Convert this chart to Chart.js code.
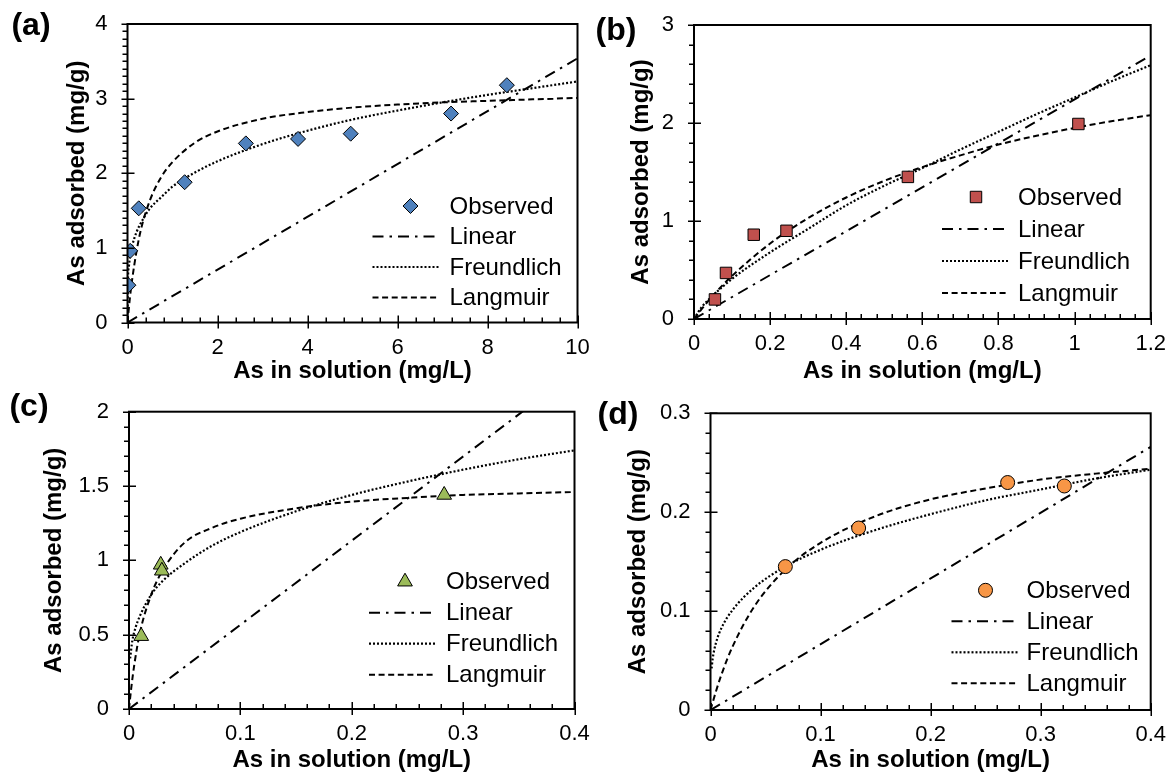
<!DOCTYPE html>
<html>
<head>
<meta charset="utf-8">
<script src="https://cdn.jsdelivr.net/npm/chart.js@4.4.0/dist/chart.umd.min.js"></script>
<style>
  body { margin: 0; background: #fff; }
  canvas { position: absolute; }
</style>
</head>
<body>
<canvas id="panel-a" width="590" height="388" style="left:0;top:0"></canvas>
<canvas id="panel-b" width="582" height="388" style="left:590px;top:0"></canvas>
<canvas id="panel-c" width="590" height="389" style="left:0;top:388px"></canvas>
<canvas id="panel-d" width="582" height="389" style="left:590px;top:388px"></canvas>
<script>
// Isotherm data: C = As in solution (mg/L), Q = As adsorbed (mg/g)

// (a)
const aObsC = [0.02, 0.06, 0.25, 1.27, 2.63, 3.79, 4.96, 7.19, 8.43];
const aObsQ = [0.50, 0.96, 1.53, 1.88, 2.40, 2.46, 2.53, 2.80, 3.18];
const aLinC = [0, 10];
const aLinQ = [0, 3.54];
const aFreC = [0, 0.01, 0.03, 0.06, 0.1, 0.2, 0.35, 0.5, 0.75, 1, 1.5, 2, 3, 4, 5, 6, 7, 8, 9, 10];
const aFreQ = [0, 0.57, 0.75, 0.90, 1.02, 1.21, 1.39, 1.53, 1.68, 1.82, 2.01, 2.16, 2.39, 2.57, 2.72, 2.84, 2.95, 3.05, 3.14, 3.23];
const aLanC = [0, 0.05, 0.1, 0.2, 0.3, 0.5, 0.75, 1, 1.5, 2, 3, 4, 5, 6, 7, 8, 9, 10];
const aLanQ = [0, 0.31, 0.56, 0.95, 1.25, 1.64, 1.95, 2.15, 2.41, 2.56, 2.73, 2.82, 2.88, 2.92, 2.95, 2.97, 2.99, 3.01];

// (b)
const bObsC = [0.055, 0.084, 0.157, 0.243, 0.562, 1.01];
const bObsQ = [0.20, 0.47, 0.86, 0.90, 1.45, 1.99];
const bLinC = [0, 1.2];
const bLinQ = [0, 2.69];
const bFreC = [0, 0.02, 0.05, 0.1, 0.2, 0.3, 0.4, 0.5, 0.6, 0.7, 0.8, 0.9, 1, 1.1, 1.2];
const bFreQ = [0, 0.12, 0.24, 0.41, 0.68, 0.92, 1.16, 1.36, 1.54, 1.73, 1.91, 2.09, 2.26, 2.43, 2.59];
const bLanC = [0, 0.02, 0.05, 0.1, 0.2, 0.3, 0.4, 0.5, 0.6, 0.7, 0.8, 0.9, 1, 1.1, 1.2];
const bLanQ = [0, 0.10, 0.24, 0.44, 0.77, 1.03, 1.24, 1.41, 1.55, 1.67, 1.78, 1.87, 1.95, 2.02, 2.08];

// (c)
const cObsC = [0.011, 0.0285, 0.0295, 0.283];
const cObsQ = [0.49, 0.97, 0.93, 1.44];
const cLinC = [0, 0.4];
const cLinQ = [0, 2.265];
const cFreC = [0.001, 0.003, 0.006, 0.01, 0.02, 0.03, 0.05, 0.075, 0.1, 0.15, 0.2, 0.25, 0.3, 0.35, 0.4];
const cFreQ = [0.34, 0.46, 0.55, 0.63, 0.77, 0.86, 0.98, 1.10, 1.19, 1.33, 1.44, 1.53, 1.61, 1.68, 1.74];
const cLanC = [0, 0.002, 0.005, 0.01, 0.02, 0.03, 0.05, 0.075, 0.1, 0.15, 0.2, 0.25, 0.3, 0.35, 0.4];
const cLanQ = [0, 0.14, 0.31, 0.52, 0.77, 0.93, 1.12, 1.22, 1.28, 1.35, 1.395, 1.42, 1.44, 1.45, 1.46];

// (d)
const dObsC = [0.068, 0.1346, 0.270, 0.3215];
const dObsQ = [0.145, 0.184, 0.230, 0.2265];
const dLinC = [0, 0.4];
const dLinQ = [0, 0.266];
const dFreC = [0.001, 0.002, 0.005, 0.01, 0.02, 0.04, 0.068, 0.1, 0.15, 0.2, 0.25, 0.3, 0.35, 0.4];
const dFreQ = [0.042, 0.052, 0.068, 0.083, 0.101, 0.124, 0.145, 0.162, 0.182, 0.198, 0.212, 0.223, 0.234, 0.243];
const dLanC = [0, 0.005, 0.01, 0.02, 0.04, 0.068, 0.1, 0.15, 0.2, 0.25, 0.3, 0.35, 0.4];
const dLanQ = [0, 0.019, 0.036, 0.064, 0.105, 0.142, 0.169, 0.196, 0.213, 0.224, 0.233, 0.239, 0.244];

const seriesNames = ['Observed', 'Linear', 'Freundlich', 'Langmuir'];
const xTitle = 'As in solution (mg/L)';
const yTitle = 'As adsorbed (mg/g)';

const FONT = '"Liberation Sans", Arial, Helvetica, sans-serif';
const DASH_LINEAR = [11, 6, 2.5, 6];
const DASH_FREUNDLICH = [2, 2];
const DASH_LANGMUIR = [6, 3.6];

const pts = (cs, qs) => cs.map((c, i) => ({ x: c, y: qs[i] }));
const fmt = v => String(Number(v.toFixed(3)));

function steps(min, max, step) {
  const n = Math.round((max - min) / step);
  const out = [];
  for (let i = 0; i <= n; i++) out.push(min + i * step);
  return out;
}
const isMajor = (v, major) => Math.abs(v / major - Math.round(v / major)) < 1e-6;

function drawMarker(ctx, style, r, x, y) {
  ctx.beginPath();
  if (style === 'rectRot') {
    ctx.moveTo(x, y - r); ctx.lineTo(x + r, y); ctx.lineTo(x, y + r); ctx.lineTo(x - r, y);
    ctx.closePath();
  } else if (style === 'rect') {
    const s = r * Math.SQRT1_2;
    ctx.rect(x - s, y - s, 2 * s, 2 * s);
  } else if (style === 'triangle') {
    ctx.moveTo(x, y - r);
    ctx.lineTo(x + r * Math.sin(Math.PI / 3), y + r / 2);
    ctx.lineTo(x - r * Math.sin(Math.PI / 3), y + r / 2);
    ctx.closePath();
  } else {
    ctx.arc(x, y, r, 0, Math.PI * 2);
  }
  ctx.fill();
  ctx.stroke();
}

// frame, tick marks, legend and panel letter
const decor = {
  id: 'decor',
  afterDraw(chart, args, o) {
    const ctx = chart.ctx;
    const { left, right, top, bottom } = chart.chartArea;
    const xs = chart.scales.x, ys = chart.scales.y;
    ctx.save();
    ctx.strokeStyle = '#000';
    ctx.lineWidth = 1.5;
    ctx.beginPath();
    steps(xs.min, xs.max, o.minorX).forEach(v => {
      const px = Math.round(xs.getPixelForValue(v)) + 0.25;
      if (isMajor(v - xs.min, o.majorX)) {
        ctx.moveTo(px, bottom + 6); ctx.lineTo(px, bottom - 7);
      } else {
        ctx.moveTo(px, bottom); ctx.lineTo(px, bottom - 5);
      }
    });
    steps(ys.min, ys.max, o.minorY).forEach(v => {
      const py = Math.round(ys.getPixelForValue(v)) + 0.25;
      if (isMajor(v - ys.min, o.majorY)) {
        ctx.moveTo(left - 6, py); ctx.lineTo(left + 7, py);
      } else {
        ctx.moveTo(left - 5, py); ctx.lineTo(left, py);
      }
    });
    ctx.stroke();
    ctx.lineWidth = 2;
    ctx.strokeRect(left, top, right - left, bottom - top);

    // legend
    const lg = o.legend;
    ctx.font = '24px ' + FONT;
    ctx.textAlign = 'left';
    ctx.textBaseline = 'middle';
    chart.data.datasets.forEach((ds, i) => {
      const y = top + lg.y0 + i * lg.gap;
      if (i === 0) {
        ctx.fillStyle = ds.backgroundColor;
        ctx.lineWidth = 1;
        drawMarker(ctx, ds.pointStyle, ds.pointRadius, left + lg.marker, y);
      } else {
        ctx.lineWidth = ds.borderWidth;
        ctx.setLineDash(ds.borderDash);
        ctx.beginPath();
        ctx.moveTo(left + lg.line0, y);
        ctx.lineTo(left + lg.line1, y);
        ctx.stroke();
        ctx.setLineDash([]);
      }
      ctx.fillStyle = '#000';
      ctx.fillText(ds.label, left + lg.text, y + 1);
    });

    ctx.font = 'bold 32px ' + FONT;
    ctx.textAlign = 'center';
    ctx.fillText(o.tag.text, o.tag.x, o.tag.y);
    ctx.restore();
  }
};

function panel(id, p) {
  const line = (label, cs, qs, dash, width, smooth) => ({
    label, data: pts(cs, qs), showLine: true, pointRadius: 0,
    borderColor: '#000', borderWidth: width, borderDash: dash,
    cubicInterpolationMode: smooth ? 'monotone' : 'default', fill: false
  });
  new Chart(document.getElementById(id), {
    type: 'scatter',
    data: {
      datasets: [
        {
          label: seriesNames[0], data: pts(p.obs[0], p.obs[1]),
          pointStyle: p.marker, pointRadius: p.markerSize, backgroundColor: p.color,
          borderColor: '#000', borderWidth: 1
        },
        line(seriesNames[1], p.lin[0], p.lin[1], DASH_LINEAR, 2, false),
        line(seriesNames[2], p.fre[0], p.fre[1], DASH_FREUNDLICH, 2.2, true),
        line(seriesNames[3], p.lan[0], p.lan[1], DASH_LANGMUIR, 2, true)
      ]
    },
    options: {
      responsive: false,
      animation: false,
      events: [],
      devicePixelRatio: 1,
      layout: { padding: { top: p.pad[0], right: p.pad[1], bottom: 0, left: 0 } },
      plugins: {
        legend: { display: false },
        tooltip: { enabled: false },
        decor: {
          majorX: p.x[2], minorX: p.x[3], majorY: p.y[2], minorY: p.y[3],
          legend: p.legend, tag: p.tag
        }
      },
      scales: {
        x: {
          type: 'linear', min: p.x[0], max: p.x[1],
          afterFit(s) { s.height = p.axisBox[1]; s.paddingLeft = 0; s.paddingRight = 0; },
          ticks: { stepSize: p.x[2], color: '#000', font: { family: FONT, size: 22 }, padding: 12, maxRotation: 0, autoSkip: false, callback: fmt },
          grid: { display: false, drawTicks: false },
          border: { display: false },
          title: { display: true, text: xTitle, color: '#000', font: { family: FONT, size: 24, weight: 'bold' }, padding: { top: 0, bottom: 2 } }
        },
        y: {
          type: 'linear', min: p.y[0], max: p.y[1],
          afterFit(s) { s.width = p.axisBox[0]; s.paddingTop = 0; s.paddingBottom = 0; },
          ticks: { stepSize: p.y[2], color: '#000', font: { family: FONT, size: 22 }, padding: 20, autoSkip: false, callback: fmt },
          grid: { display: false, drawTicks: false },
          border: { display: false },
          title: { display: true, text: yTitle, color: '#000', font: { family: FONT, size: 24, weight: 'bold' }, padding: { top: p.yTitlePad, bottom: 0 } }
        }
      }
    },
    plugins: [decor]
  });
}

panel('panel-a', {
  obs: [aObsC, aObsQ], lin: [aLinC, aLinQ], fre: [aFreC, aFreQ], lan: [aLanC, aLanQ],
  marker: 'rectRot', markerSize: 7.5, color: '#4F81BD',
  x: [0, 10, 2, 0.4], y: [0, 4, 1, 0.1],
  axisBox: [127.5, 65.5], pad: [24, 12.5], yTitlePad: 62.5,
  legend: { line0: 245, line1: 312, marker: 283, text: 322, y0: 182, gap: 30.5 },
  tag: { text: '(a)', x: 31, y: 26 }
});

panel('panel-b', {
  obs: [bObsC, bObsQ], lin: [bLinC, bLinQ], fre: [bFreC, bFreQ], lan: [bLanC, bLanQ],
  marker: 'rect', markerSize: 8.1, color: '#C0504D',
  x: [0, 1.2, 0.2, 0.04], y: [0, 3, 1, 0.2],
  axisBox: [104, 69], pad: [25, 21.3], yTitlePad: 36.5,
  legend: { line0: 248, line1: 314, marker: 282, text: 324, y0: 172, gap: 32 },
  tag: { text: '(b)', x: 26, y: 31 }
});

panel('panel-c', {
  obs: [cObsC, cObsQ], lin: [cLinC, cLinQ], fre: [cFreC, cFreQ], lan: [cLanC, cLanQ],
  marker: 'triangle', markerSize: 8.5, color: '#9BBB59',
  x: [0, 0.4, 0.1, 0.02], y: [0, 2, 0.5, 0.1],
  axisBox: [129, 68], pad: [23.7, 15.5], yTitlePad: 39.5,
  legend: { line0: 240, line1: 307, marker: 276, text: 317, y0: 170, gap: 31 },
  tag: { text: '(c)', x: 29, y: 19.5 }
});

panel('panel-d', {
  obs: [dObsC, dObsQ], lin: [dLinC, dLinQ], fre: [dFreC, dFreQ], lan: [dLanC, dLanQ],
  marker: 'circle', markerSize: 7, color: '#F79646',
  x: [0, 0.4, 0.1, 0.02], y: [0, 0.3, 0.1, 0.02],
  axisBox: [120.5, 67], pad: [25.3, 21.3], yTitlePad: 33.5,
  legend: { line0: 241, line1: 307, marker: 275, text: 316, y0: 177, gap: 31 },
  tag: { text: '(d)', x: 28, y: 27 }
});
</script>
</body>
</html>
